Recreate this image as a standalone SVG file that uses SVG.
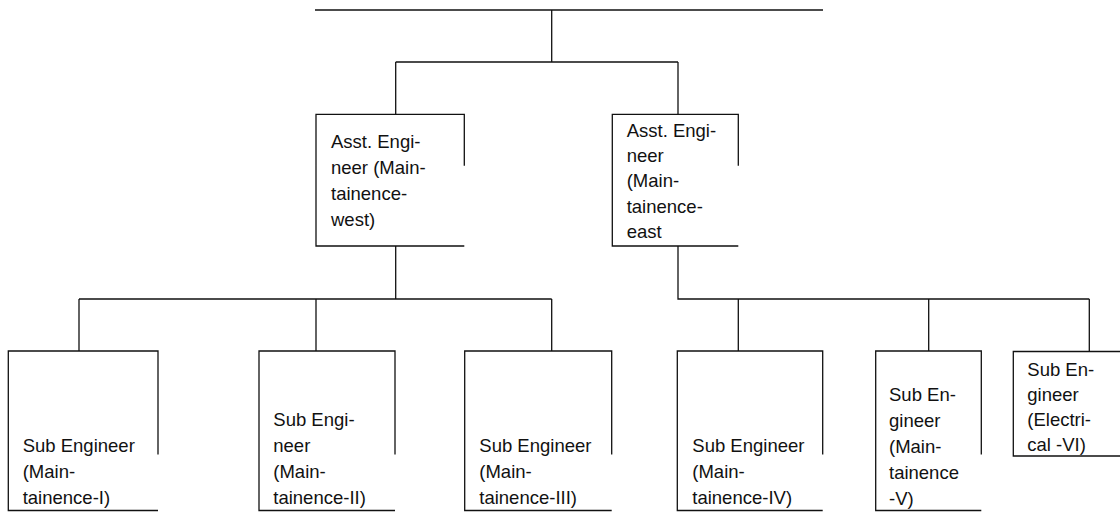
<svg xmlns="http://www.w3.org/2000/svg" width="1120" height="514" viewBox="0 0 1120 514">
<style>
.ln{fill:none;stroke:#111;stroke-width:1.3}
.t{font-family:"Liberation Sans",Arial,sans-serif;font-size:18.5px;fill:#111}
</style>
<rect width="1120" height="514" fill="#fff"/>
<g id="connectors" class="ln">
<path d="M315,10 H823"/>
<path d="M551.7,10 V62"/>
<path d="M395.7,62 H678 M395.7,62 V114.3 M678,62 V114.3"/>
<path d="M395.7,246 V299 M79,299 H551.7 M79,299 V351 M316,299 V351 M551.7,299 V351"/>
<path d="M678,246 V299 H1089.3 M738.3,299 V351 M928.7,299 V351 M1089.3,299 V351"/>
</g>
<g id="ae-west">
<path class="ln" d="M464.3,165.7 V114.3 H316 V246 H464.3"/>
<text class="t"><tspan x="331" y="148">Asst. Engi-</tspan><tspan x="331" y="174">neer (Main-</tspan><tspan x="331" y="200">tainence-</tspan><tspan x="331" y="226">west)</tspan></text>
</g>
<g id="ae-east">
<path class="ln" d="M738.3,165.7 V114.3 H612.3 V246 H738.3"/>
<text class="t"><tspan x="626.7" y="137">Asst. Engi-</tspan><tspan x="626.7" y="162">neer</tspan><tspan x="626.7" y="187">(Main-</tspan><tspan x="626.7" y="212.5">tainence-</tspan><tspan x="626.7" y="238">east</tspan></text>
</g>
<g id="se-1">
<path class="ln" d="M158,454.5 V351 H8.3 V510.5 H158"/>
<text class="t"><tspan x="22.7" y="452">Sub Engineer</tspan><tspan x="22.7" y="478">(Main-</tspan><tspan x="22.7" y="504">tainence-I)</tspan></text>
</g>
<g id="se-2">
<path class="ln" d="M395,454.5 V351 H259 V510.5 H395"/>
<text class="t"><tspan x="273.3" y="426">Sub Engi-</tspan><tspan x="273.3" y="452">neer</tspan><tspan x="273.3" y="478">(Main-</tspan><tspan x="273.3" y="504">tainence-II)</tspan></text>
</g>
<g id="se-3">
<path class="ln" d="M611.7,454.5 V351 H464.7 V510.5 H611.7"/>
<text class="t"><tspan x="479.3" y="452">Sub Engineer</tspan><tspan x="479.3" y="478">(Main-</tspan><tspan x="479.3" y="504">tainence-III)</tspan></text>
</g>
<g id="se-4">
<path class="ln" d="M822.7,454.5 V351 H677.3 V510.5 H822.7"/>
<text class="t"><tspan x="692.3" y="452">Sub Engineer</tspan><tspan x="692.3" y="478">(Main-</tspan><tspan x="692.3" y="504">tainence-IV)</tspan></text>
</g>
<g id="se-5">
<path class="ln" d="M981.3,454.5 V351 H875.7 V510.5 H981.3"/>
<text class="t"><tspan x="889" y="400.5">Sub En-</tspan><tspan x="889" y="426.5">gineer</tspan><tspan x="889" y="452.5">(Main-</tspan><tspan x="889" y="478.5">tainence</tspan><tspan x="889" y="504.5">-V)</tspan></text>
</g>
<g id="se-6">
<path class="ln" d="M1125,351.5 H1013.3 V456 H1125"/>
<text class="t"><tspan x="1027.3" y="376">Sub En-</tspan><tspan x="1027.3" y="401">gineer</tspan><tspan x="1027.3" y="426">(Electri-</tspan><tspan x="1027.3" y="451">cal -VI)</tspan></text>
</g>
</svg>
